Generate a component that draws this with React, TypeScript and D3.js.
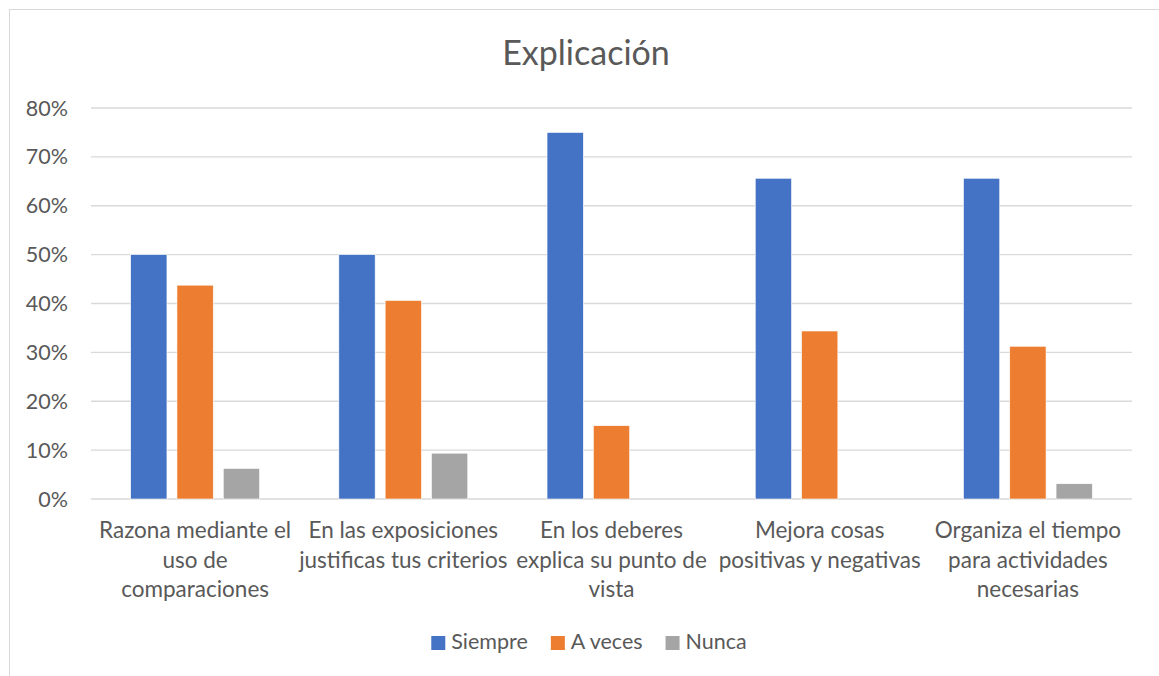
import React, { useEffect, useRef } from 'react';
import * as d3 from 'd3';

// chart data
const categories = [
  'Razona mediante el uso de comparaciones',
  'En las exposiciones justificas tus criterios',
  'En los deberes explica su punto de vista',
  'Mejora cosas positivas y negativas',
  'Organiza el tiempo para actividades necesarias',
];
// how Excel wrapped each category label
const categoryLines = [
  ['Razona mediante el', 'uso de', 'comparaciones'],
  ['En las exposiciones', 'justificas tus criterios'],
  ['En los deberes', 'explica su punto de', 'vista'],
  ['Mejora cosas', 'positivas y negativas'],
  ['Organiza el tiempo', 'para actividades', 'necesarias'],
];
const seriesNames = ['Siempre', 'A veces', 'Nunca'];
const siempre = [0.5, 0.5, 0.75, 0.65625, 0.65625];
const aVeces = [0.4375, 0.40625, 0.15, 0.34375, 0.3125];
const nunca = [0.0625, 0.09375, 0, 0, 0.03125];
const seriesColors = ['#4472C4', '#ED7D31', '#A5A5A5'];
const yTicks = [0, 0.1, 0.2, 0.3, 0.4, 0.5, 0.6, 0.7, 0.8];

const WIDTH = 1159;
const HEIGHT = 676;
const FONT = 'Lato, "Open Sans", sans-serif';
const TEXT = '#595959';

const App: React.FC = () => {
  const svgRef = useRef<SVGSVGElement>(null);

  useEffect(() => {
    if (!svgRef.current) return;
    const svg = d3.select(svgRef.current);
    svg.selectAll('*').remove();

    const values = [siempre, aVeces, nunca];
    const plot = { left: 91, right: 1132, top: 108, bottom: 499 };
    const centerX = 586;

    // outer chart frame (runs off the right and bottom edges)
    svg.append('rect')
      .attr('x', 9.5)
      .attr('y', 9.5)
      .attr('width', 1200)
      .attr('height', 800)
      .attr('fill', '#fff')
      .attr('stroke', '#d9d9d9')
      .attr('stroke-width', 1);

    const x0 = d3.scaleBand<string>()
      .domain(categories)
      .range([plot.left, plot.right])
      .padding(0);

    const x1 = d3.scaleBand<string>()
      .domain(seriesNames)
      .range([0, x0.bandwidth()])
      .paddingInner(0.216)
      .paddingOuter(0.856);

    const y = d3.scaleLinear()
      .domain([0, 0.8])
      .range([plot.bottom, plot.top]);

    // gridlines
    svg.append('g')
      .selectAll('line')
      .data(yTicks)
      .join('line')
      .attr('x1', plot.left)
      .attr('x2', plot.right)
      .attr('y1', d => y(d))
      .attr('y2', d => y(d))
      .attr('stroke', '#d9d9d9')
      .attr('stroke-width', 1.3);

    // y tick labels
    svg.append('g')
      .selectAll('text')
      .data(yTicks)
      .join('text')
      .attr('x', 68)
      .attr('y', d => y(d) + 7.5)
      .attr('text-anchor', 'end')
      .attr('font-family', FONT)
      .attr('font-size', 21.5)
      .attr('fill', TEXT)
      .text(d => d3.format('.0%')(d));

    // bars
    const groups = svg.append('g')
      .selectAll('g')
      .data(categories)
      .join('g')
      .attr('transform', d => `translate(${x0(d)},0)`);

    groups.selectAll('rect')
      .data((_, i) => seriesNames.map((s, j) => ({ s, v: values[j][i], c: seriesColors[j] })))
      .join('rect')
      .attr('x', d => x1(d.s) || 0)
      .attr('y', d => y(d.v))
      .attr('width', x1.bandwidth())
      .attr('height', d => y(0) - y(d.v))
      .attr('fill', d => d.c)
      .attr('stroke', '#fff')
      .attr('stroke-width', 0.6);

    // category labels
    categories.forEach((cat, i) => {
      const t = svg.append('text')
        .attr('text-anchor', 'middle')
        .attr('font-family', FONT)
        .attr('font-size', 22.5)
        .attr('fill', TEXT);
      categoryLines[i].forEach((line, k) => {
        t.append('tspan')
          .attr('x', (x0(cat) || 0) + x0.bandwidth() / 2)
          .attr('y', 538 + k * 29.5)
          .text(line);
      });
    });

    // title
    svg.append('text')
      .attr('x', centerX)
      .attr('y', 65)
      .attr('text-anchor', 'middle')
      .attr('font-family', FONT)
      .attr('font-size', 34)
      .attr('fill', TEXT)
      .text('Explicación');

    // legend, centred under the chart
    const legend = svg.append('g');
    let cursor = 0;
    seriesNames.forEach((name, i) => {
      const item = legend.append('g').attr('transform', `translate(${cursor},0)`);
      item.append('rect')
        .attr('x', 0)
        .attr('y', 636)
        .attr('width', 14)
        .attr('height', 14)
        .attr('fill', seriesColors[i]);
      const label = item.append('text')
        .attr('x', 20)
        .attr('y', 649)
        .attr('font-family', FONT)
        .attr('font-size', 21.5)
        .attr('fill', TEXT)
        .text(name);
      const w = (label.node() as SVGTextElement).getComputedTextLength();
      cursor += 20 + w + (i < seriesNames.length - 1 ? 23 : 0);
    });
    legend.attr('transform', `translate(${centerX + 3 - cursor / 2},0)`);
  }, []);

  return (
    <svg
      ref={svgRef}
      width={WIDTH}
      height={HEIGHT}
      style={{ position: 'absolute', left: 0, top: 0, background: '#fff' }}
    />
  );
};

export default App;
